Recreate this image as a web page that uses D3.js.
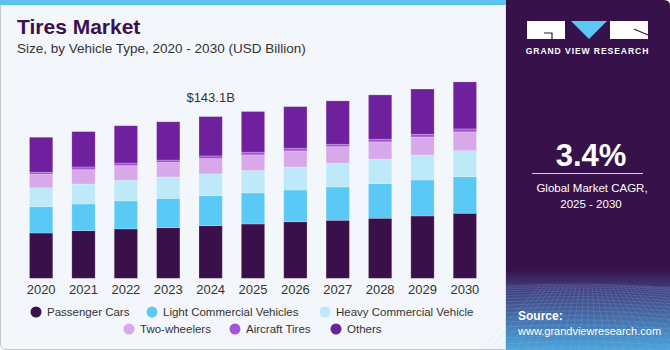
<!DOCTYPE html>
<html>
<head>
<meta charset="utf-8">
<script src="https://cdn.jsdelivr.net/npm/d3@7"></script>
<style>
  body { margin: 0; background: #fff; }
  svg { display: block; font-family: "Liberation Sans", Arial, sans-serif; }
</style>
</head>
<body>
<div id="chart"></div>
<script>
// ============================
// Data (USD Billion)
// ============================
const years = ["2020","2021","2022","2023","2024","2025","2026","2027","2028","2029","2030"];
const segments = ["Passenger Cars","Light Commercial Vehicles","Heavy Commercial Vehicle","Two-wheelers","Aircraft Tires","Others"];
const passengerCars = [40.1, 42.2, 43.7, 44.8, 46.6, 48.1, 50.1, 51.4, 53.2, 55.2, 57.6];
const lightCommercial = [23.3, 23.6, 24.8, 26.0, 26.6, 27.5, 28.1, 29.5, 30.7, 31.9, 32.4];
const heavyCommercial = [16.8, 17.7, 18.3, 18.9, 19.2, 19.8, 20.4, 21.0, 21.6, 22.1, 23.0];
const twoWheelers = [11.9, 12.7, 12.9, 13.0, 13.6, 13.9, 14.2, 14.7, 15.3, 15.9, 16.6];
const aircraftTires = [1.8, 2.4, 2.4, 2.0, 2.4, 2.4, 2.4, 2.1, 2.4, 2.4, 2.7];
const others = [31.0, 31.3, 33.0, 33.9, 34.8, 36.0, 36.8, 38.4, 39.2, 40.1, 41.6];
const colors = ["#3a104b", "#5bc9f6", "#bde9f9", "#d7a8ea", "#a552d6", "#6f209c"];
const calloutYear = "2024";
const calloutLabel = "$143.1B";

const width = 670, height = 350;

const svg = d3.select("#chart").append("svg")
  .attr("width", width).attr("height", height)
  .attr("viewBox", [0, 0, width, height]);

// ============================
// Background panels
// ============================
svg.append("path")
  .attr("d", "M0.5,0 H506 V349.5 H6 Q0.5,349.5 0.5,344 Z")
  .attr("fill", "#f3f7fb")
  .attr("stroke", "#c9c9c9");
svg.append("rect").attr("x", 0).attr("y", 0).attr("width", 506).attr("height", 5).attr("fill", "#5cc3ee");

const defs = svg.append("defs");
const grad = defs.append("linearGradient").attr("id", "sideGrad").attr("x1", 0).attr("y1", 0).attr("x2", 0).attr("y2", 1);
grad.append("stop").attr("offset", "0%").attr("stop-color", "#37114a");
grad.append("stop").attr("offset", "77%").attr("stop-color", "#37114a");
grad.append("stop").attr("offset", "82%").attr("stop-color", "#3f3a78");
grad.append("stop").attr("offset", "100%").attr("stop-color", "#4aa4dc");

svg.append("path")
  .attr("d", "M506,0 H664 Q670,0 670,6 V350 H506 Z")
  .attr("fill", "url(#sideGrad)");

// faint mesh in the lower part of the side panel
const mesh = svg.append("g").attr("stroke", "#9fc4ec").attr("stroke-opacity", 0.3).attr("fill", "none").attr("stroke-width", 0.6);
d3.range(0, 18).forEach(i => {
  const y = 286 + i * i * 0.15 + i * 1.2;
  mesh.append("path").attr("d", `M506,${y} Q588,${y - 5} 670,${y + 2}`);
});
d3.range(-12, 30).forEach(i => {
  const x0 = 588 + i * 4, x1 = 588 + i * 9;
  mesh.append("line").attr("x1", x0).attr("y1", 286).attr("x2", x1).attr("y2", 350);
});

// ============================
// Title
// ============================
svg.append("text").attr("x", 17).attr("y", 34)
  .attr("font-size", 21).attr("font-weight", 900).attr("fill", "#3a1050")
  .text("Tires Market");
svg.append("text").attr("x", 17).attr("y", 53)
  .attr("font-size", 13.5).attr("fill", "#333")
  .text("Size, by Vehicle Type, 2020 - 2030 (USD Billion)");

// ============================
// Scales and stacked bars
// ============================
const table = years.map((y, i) => ({
  year: y,
  "Passenger Cars": passengerCars[i],
  "Light Commercial Vehicles": lightCommercial[i],
  "Heavy Commercial Vehicle": heavyCommercial[i],
  "Two-wheelers": twoWheelers[i],
  "Aircraft Tires": aircraftTires[i],
  "Others": others[i]
}));
const stacked = d3.stack().keys(segments)(table);

const xscale = d3.scaleBand().domain(years).range([21, 485]).paddingInner(0.45).paddingOuter(0.2);
const yscale = d3.scaleLinear().domain([0, 143.1]).range([278.3, 116.7]);
const color = d3.scaleOrdinal().domain(segments).range(colors);

svg.append("g")
  .selectAll("g")
  .data(stacked)
  .join("g")
  .attr("fill", d => color(d.key))
  .selectAll("rect")
  .data(d => d)
  .join("rect")
  .attr("x", d => xscale(d.data.year))
  .attr("y", d => yscale(d[1]))
  .attr("width", xscale.bandwidth())
  .attr("height", d => yscale(d[0]) - yscale(d[1]))
  .attr("stroke", "#ffffff")
  .attr("stroke-opacity", 0.25)
  .attr("stroke-width", 0.8);

// x axis labels
const xAxis = d3.axisBottom(xscale).tickSize(0).tickPadding(6);
svg.append("g")
  .attr("transform", "translate(0,279)")
  .call(xAxis)
  .call(g => g.select(".domain").remove())
  .call(g => g.selectAll("text").attr("font-size", 13).attr("fill", "#333")
    .attr("font-family", "'Liberation Sans', Arial, sans-serif"));

// value callout
const calloutIdx = years.indexOf(calloutYear);
svg.append("text")
  .attr("x", xscale(calloutYear) + xscale.bandwidth() / 2 + 0)
  .attr("y", yscale(d3.sum(stacked, s => s[calloutIdx][1] - s[calloutIdx][0])) - 15)
  .attr("text-anchor", "middle")
  .attr("font-size", 13).attr("fill", "#333")
  .text(calloutLabel);

// ============================
// Legend
// ============================
const legendRows = [
  [[0, 36], [1, 152], [2, 325]],
  [[3, 129], [4, 235], [5, 336]]
];
const legend = svg.append("g").attr("font-size", 11.5).attr("fill", "#333");
legendRows.forEach((row, r) => {
  const cy = 312 + r * 17;
  row.forEach(([k, cx]) => {
    legend.append("circle").attr("cx", cx).attr("cy", cy).attr("r", 5.5).attr("fill", colors[k]);
    legend.append("text").attr("x", cx + 11).attr("y", cy + 4.2).text(segments[k]);
  });
});

// ============================
// Side panel: logo and CAGR
// ============================
const logo = svg.append("g");
logo.append("rect").attr("x", 527).attr("y", 21).attr("width", 38).attr("height", 18).attr("fill", "#fff");
logo.append("path").attr("d", "M544,33 H552 V39").attr("stroke", "#37114a").attr("stroke-width", 1.2).attr("fill", "none");
logo.append("path").attr("d", "M571,21 H607 L589,39 Z").attr("fill", "#5bc9f6");
logo.append("rect").attr("x", 610).attr("y", 21).attr("width", 38).attr("height", 18).attr("fill", "#fff");
logo.append("path").attr("d", "M634,29 L648,35").attr("stroke", "#37114a").attr("stroke-width", 1.2);
logo.append("text").attr("x", 587.5).attr("y", 54).attr("text-anchor", "middle")
  .attr("font-size", 8.6).attr("font-weight", 700).attr("letter-spacing", 0.9).attr("fill", "#fff")
  .text("GRAND VIEW RESEARCH");

svg.append("text").attr("x", 591).attr("y", 166).attr("text-anchor", "middle")
  .attr("font-size", 31).attr("font-weight", 700).attr("fill", "#fff")
  .text("3.4%");
svg.append("line").attr("x1", 532).attr("x2", 643).attr("y1", 173.5).attr("y2", 173.5)
  .attr("stroke", "#d9cde3").attr("stroke-width", 1);
svg.append("text").attr("x", 592).attr("y", 192).attr("text-anchor", "middle")
  .attr("font-size", 11.5).attr("fill", "#fff")
  .text("Global Market CAGR,");
svg.append("text").attr("x", 591).attr("y", 208).attr("text-anchor", "middle")
  .attr("font-size", 11.5).attr("fill", "#fff")
  .text("2025 - 2030");

svg.append("text").attr("x", 518).attr("y", 320)
  .attr("font-size", 12).attr("font-weight", 700).attr("fill", "#fff")
  .text("Source:");
svg.append("text").attr("x", 518).attr("y", 335)
  .attr("font-size", 11).attr("fill", "#fff")
  .text("www.grandviewresearch.com");
</script>
</body>
</html>
